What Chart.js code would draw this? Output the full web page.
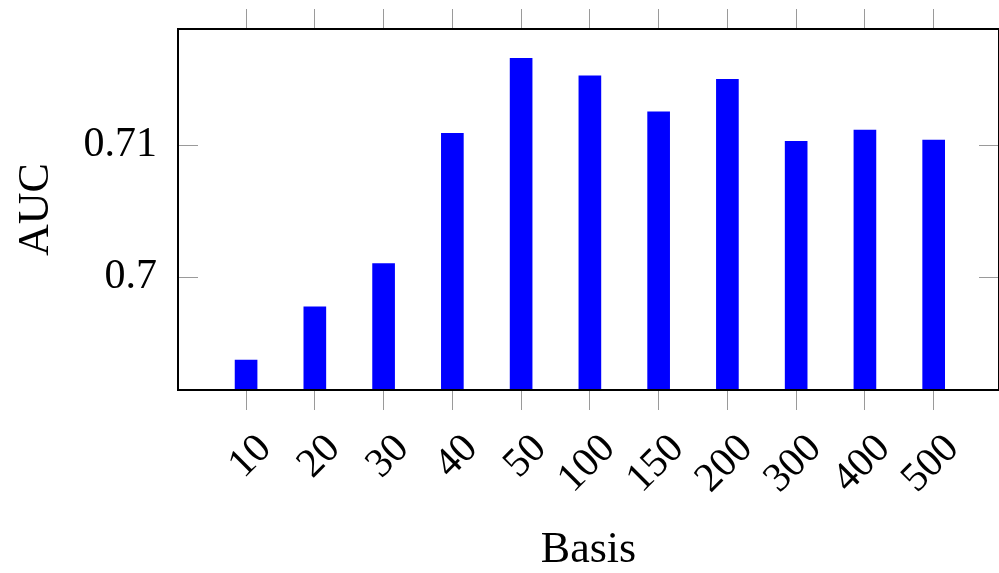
<!DOCTYPE html>
<html>
<head>
<meta charset="utf-8">
<script src="https://cdn.jsdelivr.net/npm/chart.js@4"></script>
<style>
  html, body { margin: 0; padding: 0; background: #fff; }
  #wrap { width: 999px; height: 573px; }
</style>
</head>
<body>
<div id="wrap"><canvas id="graph" width="999" height="573"></canvas></div>
<script>
// data
const basisLabels = ["10", "20", "30", "40", "50", "100", "150", "200", "300", "400", "500"];
const aucValues = [0.69376, 0.69778, 0.70103, 0.71086, 0.71652, 0.7152, 0.71249, 0.71493, 0.71026, 0.71111, 0.71035];
const yTickValues = [0.7, 0.71];
const yMin = 0.6915;
const yMax = 0.71873;

const SERIF = "'Liberation Serif', 'DejaVu Serif', serif";
const TICK_GRAY = "#9a9a9a";

// -------------------------
// frame + inner y ticks
// -------------------------
const framePlugin = {
  id: "frame",
  afterDatasetsDraw(chart) {
    const { ctx, chartArea: a, scales } = chart;
    ctx.save();
    ctx.strokeStyle = TICK_GRAY;
    ctx.lineWidth = 1;
    yTickValues.forEach(v => {
      const py = Math.round(scales.y.getPixelForValue(v)) + 0.5;
      ctx.beginPath();
      ctx.moveTo(a.left, py);
      ctx.lineTo(a.left + 20, py);
      ctx.moveTo(a.right - 20, py);
      ctx.lineTo(a.right, py);
      ctx.stroke();
    });
    ctx.strokeStyle = "#000";
    ctx.lineWidth = 2;
    ctx.strokeRect(a.left, a.top, a.right - a.left, a.bottom - a.top);
    ctx.restore();
  }
};

function categoryTicks(scale) {
  scale.ticks = basisLabels.map((_, i) => ({ value: i + 1 }));
}

function fixedSize(w, h) {
  return scale => {
    if (w != null) scale.width = w;
    if (h != null) scale.height = h;
    scale.paddingTop = 0;
    scale.paddingBottom = 0;
    scale.paddingLeft = 0;
    scale.paddingRight = 0;
  };
}

const xGrid = {
  offset: false,
  drawOnChartArea: false,
  drawTicks: true,
  tickLength: 20,
  color: TICK_GRAY,
  lineWidth: 1
};

new Chart(document.getElementById("graph").getContext("2d"), {
  type: "bar",
  data: {
    datasets: [{
      label: "AUC",
      data: aucValues.map((v, i) => ({ x: i + 1, y: v })),
      backgroundColor: "#0000ff",
      borderWidth: 0,
      barThickness: 22
    }]
  },
  options: {
    responsive: false,
    animation: false,
    devicePixelRatio: 1,
    layout: { padding: 0 },
    plugins: {
      legend: { display: false },
      tooltip: { enabled: false }
    },
    scales: {
      x: {
        type: "linear",
        position: "bottom",
        offset: false,
        min: 0.01,
        max: 11.95,
        afterBuildTicks: categoryTicks,
        afterFit: fixedSize(null, 183),
        grid: xGrid,
        border: { display: false },
        ticks: {
          autoSkip: false,
          minRotation: 45,
          maxRotation: 45,
          labelOffset: 19,
          padding: 18,
          color: "#000",
          font: { family: SERIF, size: 41, lineHeight: 1 },
          callback: v => basisLabels[v - 1]
        },
        title: {
          display: true,
          text: "Basis",
          color: "#000",
          font: { family: SERIF, size: 44, lineHeight: 1 },
          padding: { top: 0, bottom: 1 }
        }
      },
      x2: {
        type: "linear",
        position: "top",
        offset: false,
        min: 0.01,
        max: 11.95,
        afterBuildTicks: categoryTicks,
        afterFit: fixedSize(null, 29),
        grid: xGrid,
        border: { display: false },
        ticks: { display: false }
      },
      y: {
        position: "left",
        min: yMin,
        max: yMax,
        afterBuildTicks(scale) {
          scale.ticks = yTickValues.map(v => ({ value: v }));
        },
        afterFit: fixedSize(178, null),
        grid: { drawOnChartArea: false, drawTicks: false },
        border: { display: false },
        ticks: {
          padding: 21,
          color: "#000",
          font: { family: SERIF, size: 42, lineHeight: 1 },
          callback: v => String(v)
        },
        title: {
          display: true,
          text: "AUC",
          color: "#000",
          font: { family: SERIF, size: 44, lineHeight: 1 },
          padding: { top: 14, bottom: 0 }
        }
      }
    }
  },
  plugins: [framePlugin]
});
</script>
</body>
</html>
